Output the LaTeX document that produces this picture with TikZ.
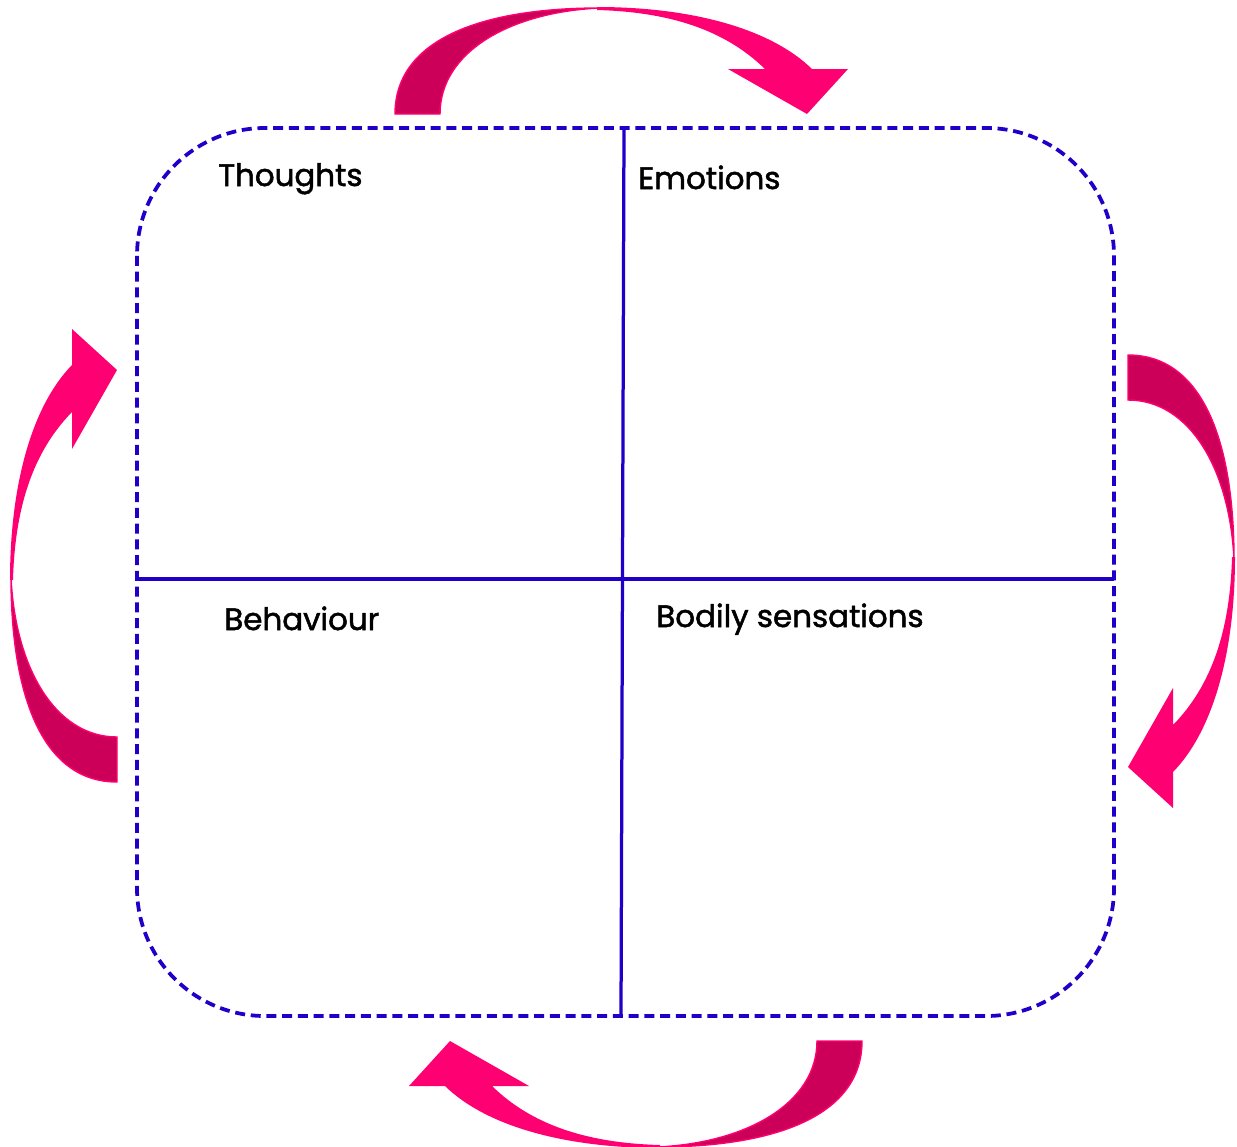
\documentclass[tikz,border=0pt]{standalone}
\usepackage{fontspec}
\setmainfont{Poppins}[BoldFont=Poppins, BoldFeatures={FakeBold=1.6}]
\definecolor{pinkL}{RGB}{255,0,114}
\definecolor{pinkD}{RGB}{204,0,88}
\definecolor{boxblue}{RGB}{30,0,200}
\newcommand{\cyclearrow}{%
  \fill[pinkL] (597,7) .. controls (690,7) and (770,28) .. (812,69) -- (848,69) -- (807,114) -- (728,69) -- (765,69) .. controls (725,30) and (670,12) .. (597,10) -- cycle;
  \filldraw[fill=pinkD, draw=pinkL, line width=0.8pt] (395,114) .. controls (395,40) and (480,8) .. (600,8) .. controls (510,12) and (440,52) .. (440,114) -- cycle;
}
\tikzset{
  outline/.style={draw=boxblue, line width=0.075cm, dash pattern=on 0.2cm off 0.115cm, rounded corners=2.56cm},
  divider/.style={draw=boxblue, line width=0.065cm},
  label/.style={anchor=base west, inner sep=0pt, font=\fontsize{17.6}{20}\selectfont\bfseries, text=black}
}
\begin{document}
\begin{tikzpicture}[x=0.02cm, y=-0.02cm]
  \useasboundingbox (0,0) rectangle (1237,1146);
  % arrows
  \begin{scope}\cyclearrow\end{scope}
  \begin{scope}[rotate around={-90:(641,601)}]\cyclearrow\end{scope}
  \begin{scope}[rotate around={180:(628.5,577.5)}]\cyclearrow\end{scope}
  \begin{scope}[rotate around={90:(590,587)}]\cyclearrow\end{scope}
  % box
  \path[outline] (137,128) rectangle (1114,1016);
  \coordinate (vtop) at (624,128);
  \coordinate (vbot) at (621,1016);
  \coordinate (hleft) at (137,579);
  \coordinate (hright) at (1114,579);
  \path[divider] (vtop) -- (vbot);
  \path[divider] (hleft) -- (hright);
  % labels
  \node[label] (thoughts) at (218,186) {Thoughts};
  \node[label] (emotions) at (638,189) {Emotions};
  \node[label] (behaviour) at (224,630) {Behaviour};
  \node[label] (bodily) at (656,627) {Bodily sensations};
\end{tikzpicture}
\end{document}
